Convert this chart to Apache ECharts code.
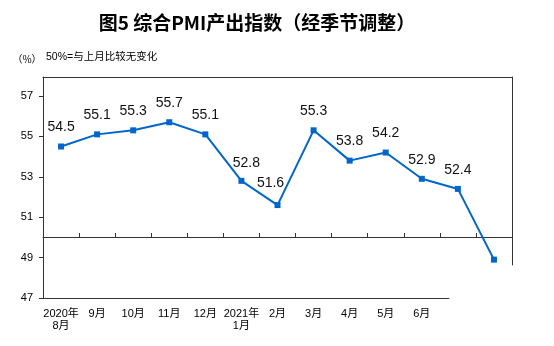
<!DOCTYPE html>
<html><head><meta charset="utf-8">
<script src="https://cdn.jsdelivr.net/npm/echarts@6/dist/echarts.min.js"></script>
<style>html,body{margin:0;padding:0;background:#fff}#c{width:554px;height:346px}</style>
</head><body><div id="c"></div>
<script>
// ---- data ----
const categories = ['2020-08','2020-09','2020-10','2020-11','2020-12','2021-01','2021-02','2021-03','2021-04','2021-05','2021-06','2021-07','2021-08'];
const xLabels = ['2020年\n8月','9月','10月','11月','12月','2021年\n1月','2月','3月','4月','5月','6月','',''];
const pmiValues = [54.5,55.1,55.3,55.7,55.1,52.8,51.6,55.3,53.8,54.2,52.9,52.4,48.9];
const yTicks = [47,49,51,53,55,57];
const yMin = 47, yMax = 57.94, refLine = 50;
const titleText = '图5 综合PMI产出指数（经季节调整）';
const unitText = '（%）';
const noteText = '50%=与上月比较无变化';

// ---- layout tweaks (not data) ----
const labelOffsets = {5: [5, 1], 6: [-7, -3]};
const hiddenLabels = [12];

const lineColor = '#333';
const blue = '#0066cc';
const cjk = "'Liberation Sans','Noto Sans CJK SC',sans-serif";

const seriesData = pmiValues.map((v, i) => {
  const item = {value: v};
  if (hiddenLabels.includes(i)) item.label = {show: false};
  else if (labelOffsets[i]) item.label = {offset: labelOffsets[i]};
  return item;
});

const chart = echarts.init(document.getElementById('c'), null, {renderer: 'canvas'});
chart.setOption({
  animation: false,
  backgroundColor: '#fff',
  graphic: [
    {type: 'text', x: 257, y: 23, style: {text: titleText, textAlign: 'center', textVerticalAlign: 'middle', font: "bold 19px 'Noto Sans CJK SC'", fill: '#000'}},
    {type: 'text', x: 27, y: 59, style: {text: unitText, textAlign: 'center', textVerticalAlign: 'middle', font: "10px 'Noto Sans CJK SC'", fill: '#000'}},
    {type: 'text', x: 46, y: 57, style: {text: noteText, textAlign: 'left', textVerticalAlign: 'middle', font: "10.5px " + cjk, fill: '#000'}}
  ],
  grid: [
    {left: 43, right: 42, top: 77, bottom: 48},
    {left: 43, right: 42, top: 77, bottom: 109},
    {left: 43, right: 42, top: 77, bottom: 81},
    {left: 43, right: 105, top: 77, bottom: 48}
  ],
  xAxis: [
    {gridIndex: 0, type: 'category', data: categories, position: 'bottom', boundaryGap: true,
     axisLine: {show: false}, axisTick: {show: false},
     axisLabel: {interval: 0, margin: 10, fontSize: 11, lineHeight: 12, color: '#000', fontFamily: cjk,
       formatter: (v, i) => xLabels[i]}},
    {gridIndex: 0, type: 'category', data: categories, position: 'top',
     axisLine: {show: true, lineStyle: {color: lineColor, width: 1}}, axisTick: {show: false}, axisLabel: {show: false}},
    {gridIndex: 1, type: 'category', data: categories, position: 'bottom', boundaryGap: true,
     axisLine: {show: true, lineStyle: {color: lineColor, width: 1}},
     axisTick: {show: true, inside: true, length: 4, interval: 0, lineStyle: {color: lineColor}},
     axisLabel: {show: false}},
    {gridIndex: 2, type: 'category', data: categories, show: false},
    {gridIndex: 3, type: 'category', data: categories, position: 'bottom',
     axisLine: {show: true, lineStyle: {color: lineColor, width: 1}}, axisTick: {show: false}, axisLabel: {show: false}}
  ],
  yAxis: [
    {gridIndex: 0, type: 'value', min: yMin, max: yMax, position: 'left',
     axisLine: {show: true, lineStyle: {color: lineColor, width: 1}},
     axisTick: {show: true, length: 4, customValues: yTicks, lineStyle: {color: lineColor}},
     axisLabel: {customValues: yTicks, margin: 10, fontSize: 11, color: '#000', fontFamily: cjk},
     splitLine: {show: false}},
    {gridIndex: 1, type: 'value', min: refLine, max: yMax, show: false},
    {gridIndex: 2, type: 'value', min: yMin, max: yMax, position: 'right',
     axisLine: {show: true, lineStyle: {color: lineColor, width: 1}},
     axisTick: {show: false}, axisLabel: {show: false}, splitLine: {show: false}},
    {gridIndex: 3, type: 'value', min: yMin, max: yMax, show: false}
  ],
  series: [{
    type: 'line', xAxisIndex: 0, yAxisIndex: 0, data: seriesData,
    symbol: 'rect', symbolSize: 6,
    lineStyle: {color: blue, width: 2}, itemStyle: {color: blue},
    label: {show: true, position: 'top', distance: 9, fontSize: 14, color: '#111', fontFamily: "'Liberation Sans', Arial, sans-serif"}
  }]
});
</script></body></html>
